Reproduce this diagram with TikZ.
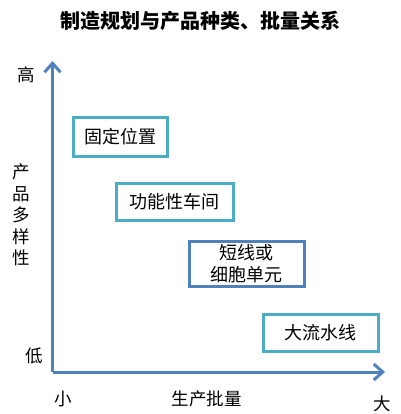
\documentclass[tikz,border=0pt]{standalone}
\usepackage{fontspec}
\usepackage{tikz}
\usepackage{xcolor}
\usetikzlibrary{arrows.meta}
\setmainfont{Noto Sans CJK SC}
\definecolor{tealblue}{HTML}{4BACC6}
\definecolor{steelblue}{HTML}{4F81BD}
\tikzset{
    plan-box/.style = {draw=tealblue, fill=white, line width=3pt, rectangle, inner sep=0pt, align=center, font=\fontsize{18}{22}\selectfont},
    cell-box/.style = {plan-box, draw=steelblue},
    axis-line/.style = {draw=steelblue, line width=3pt, -{Straight Barb[length=9pt, width=16pt]}},
    axis-label/.style = {inner sep=0pt, align=center, font=\fontsize{17.5}{21.5}\selectfont},
}

\begin{document}
\begin{tikzpicture}[x=1pt, y=-1pt]
\useasboundingbox (0,0) rectangle (400,414);
\node[font=\fontsize{20}{24}\selectfont\bfseries] (title) at (200,20.5) {制造规划与产品种类、批量关系};

\coordinate (origin) at (52.5,372);
\coordinate (ytip) at (52.5,61);
\coordinate (xtip) at (385,372);
\draw[axis-line] (origin) -- (ytip);
\draw[axis-line] (origin) -- (xtip);

\node[axis-label] (high) at (26,75) {高};
\node[axis-label] (low) at (34,356) {低};
\node[axis-label] (variety) at (21,215) {产\\品\\多\\样\\性};
\node[axis-label] (small) at (63,399) {小};
\node[axis-label] (volume) at (206.5,399) {生产批量};
\node[axis-label] (large) at (382,404) {大};

\node[plan-box, minimum width=94pt, minimum height=38pt] (fixed) at (120,137) {固定位置};
\node[plan-box, minimum width=117pt, minimum height=37pt] (process) at (174.5,202) {功能性车间};
\node[cell-box, minimum width=115pt, minimum height=45pt] (cell) at (246.5,263.5) {短线或\\细胞单元};
\node[plan-box, minimum width=115pt, minimum height=37pt] (line) at (320.5,332.5) {大流水线};
\end{tikzpicture}
\end{document}
